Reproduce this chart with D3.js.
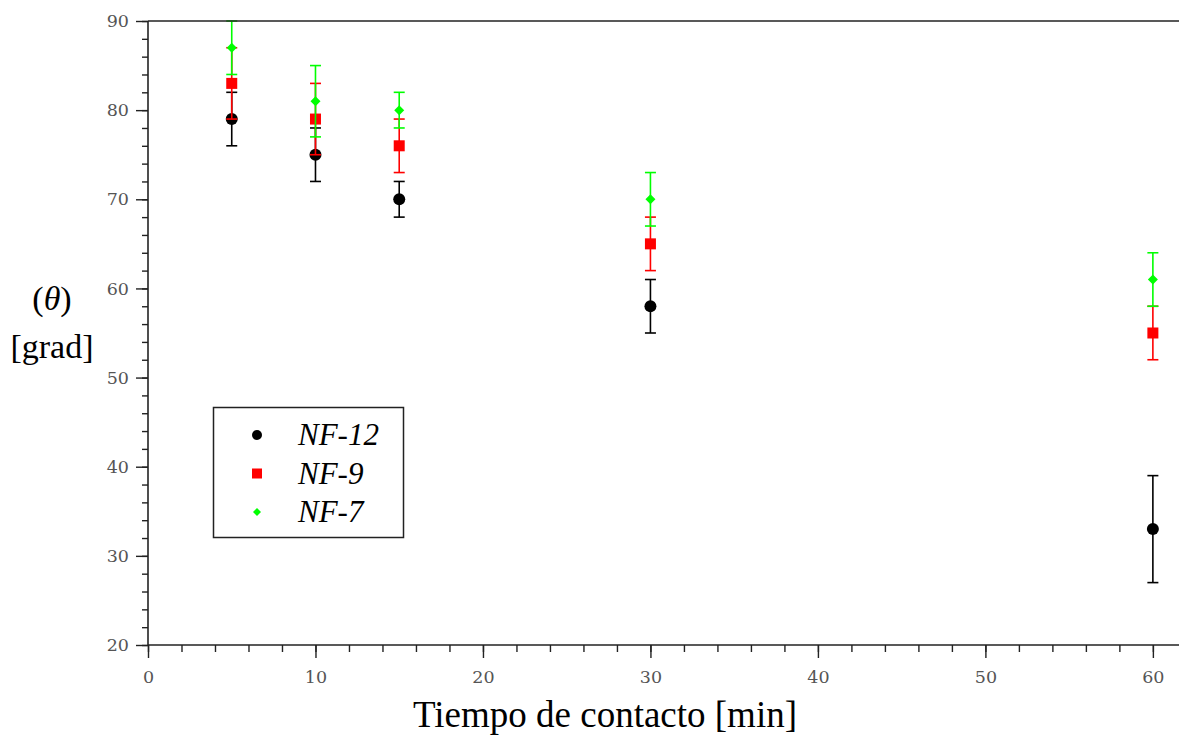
<!DOCTYPE html>
<html>
<head>
<meta charset="utf-8">
<script src="https://cdn.jsdelivr.net/npm/d3@7"></script>
<style>
    body { margin: 0; background: #fff; }
    .tick text { font-family: "DejaVu Serif", serif; font-size: 17.5px; fill: #555; }
</style>
</head>
<body>
<div id="chart"></div>
<script>

// Data ///////////////////////////////////////////////////////////////////////

const tiempo = [5, 10, 15, 30, 60];

const nf12 = [79, 75, 70, 58, 33];
const nf12Err = [3, 3, 2, 3, 6];

const nf9 = [83, 79, 76, 65, 55];
const nf9Err = [4, 4, 3, 3, 3];

const nf7 = [87, 81, 80, 70, 61];
const nf7Err = [3, 4, 2, 3, 3];

const seriesNames = ["NF-12", "NF-9", "NF-7"];

const xTicks = [0, 10, 20, 30, 40, 50, 60];
const yTicks = [20, 30, 40, 50, 60, 70, 80, 90];

const params = {
    width: 1179,
    height: 736,
    left: 148,
    right: 1178,
    top: 21,
    bottom: 645
};

const series = [
    { name: seriesNames[0], values: nf12, err: nf12Err, color: "#000000", shape: "circle" },
    { name: seriesNames[1], values: nf9, err: nf9Err, color: "#ff0000", shape: "square" },
    { name: seriesNames[2], values: nf7, err: nf7Err, color: "#00ff00", shape: "diamond" }
];


// Scales /////////////////////////////////////////////////////////////////////

const x = d3.scaleLinear()
    .domain([0, 61.5])
    .range([params.left, params.right]);

const y = d3.scaleLinear()
    .domain([20, 90])
    .range([params.bottom, params.top]);

const svg = d3.select("#chart")
    .append("svg")
        .attr("width", params.width)
        .attr("height", params.height)
        .attr("viewBox", [0, 0, params.width, params.height]);


// Markers ////////////////////////////////////////////////////////////////////

function drawMarker(g, shape, color, size) {
    if (shape === "circle") {
        g.append("circle").attr("r", size / 2).attr("fill", color);
    } else if (shape === "square") {
        g.append("rect")
            .attr("x", -size / 2).attr("y", -size / 2)
            .attr("width", size).attr("height", size)
            .attr("fill", color);
    } else {
        const h = size / 2;
        g.append("path")
            .attr("d", `M0,${-h}L${h},0L0,${h}L${-h},0Z`)
            .attr("fill", color);
    }
}

const sizes = { circle: 12, square: 11, diamond: 10 };

const dataLayer = svg.append("g");

series.forEach(s => {
    const g = dataLayer.append("g");
    const pts = tiempo.map((t, i) => ({ t, v: s.values[i], e: s.err[i] }));

    const bars = g.selectAll("g.bar")
        .data(pts)
        .join("g")
        .attr("class", "bar")
        .attr("stroke", s.color)
        .attr("stroke-width", 1.6);

    bars.append("line")
        .attr("x1", d => x(d.t)).attr("x2", d => x(d.t))
        .attr("y1", d => y(Math.min(90, d.v + d.e)))
        .attr("y2", d => y(d.v - d.e));

    bars.append("line")
        .attr("x1", d => x(d.t) - 5.5).attr("x2", d => x(d.t) + 5.5)
        .attr("y1", d => y(d.v + d.e)).attr("y2", d => y(d.v + d.e))
        .attr("display", d => d.v + d.e > 90 ? "none" : null);

    bars.append("line")
        .attr("x1", d => x(d.t) - 5.5).attr("x2", d => x(d.t) + 5.5)
        .attr("y1", d => y(d.v - d.e)).attr("y2", d => y(d.v - d.e));

    g.selectAll("g.mark")
        .data(pts)
        .join("g")
        .attr("class", "mark")
        .attr("transform", d => `translate(${x(d.t)},${y(d.v)})`)
        .each(function() { drawMarker(d3.select(this), s.shape, s.color, sizes[s.shape]); });
});


// Axes ///////////////////////////////////////////////////////////////////////

svg.append("g")
    .attr("transform", `translate(0,${params.bottom})`)
    .call(d3.axisBottom(x).tickValues(d3.range(0, 62, 2)).tickFormat("").tickSize(7).tickSizeOuter(0))
    .call(g => g.select(".domain").remove());

svg.append("g")
    .attr("transform", `translate(0,${params.bottom})`)
    .call(d3.axisBottom(x).tickValues(xTicks).tickSize(13).tickPadding(13).tickSizeOuter(0))
    .call(g => g.select(".domain").remove());

svg.append("g")
    .attr("transform", `translate(${params.left},0)`)
    .call(d3.axisLeft(y).tickValues(d3.range(20, 91, 2)).tickFormat("").tickSize(6).tickSizeOuter(0))
    .call(g => g.select(".domain").remove());

svg.append("g")
    .attr("transform", `translate(${params.left},0)`)
    .call(d3.axisLeft(y).tickValues(yTicks).tickSize(12).tickPadding(7).tickSizeOuter(0))
    .call(g => g.select(".domain").remove());

svg.selectAll(".tick line").attr("stroke", "#222").attr("stroke-width", 1.4);

// Frame lines: left, bottom, top
const frame = svg.append("g")
    .attr("stroke", "#222")
    .attr("stroke-width", 1.6)
    .attr("fill", "none");

frame.append("line")
    .attr("x1", params.left).attr("x2", params.left)
    .attr("y1", params.top).attr("y2", params.bottom);
frame.append("line")
    .attr("x1", params.left).attr("x2", params.width)
    .attr("y1", params.bottom).attr("y2", params.bottom);
frame.append("line")
    .attr("x1", params.left).attr("x2", params.width)
    .attr("y1", params.top).attr("y2", params.top);


// Axis titles ////////////////////////////////////////////////////////////////

svg.append("text")
    .attr("x", 605)
    .attr("y", 727)
    .attr("text-anchor", "middle")
    .attr("font-family", "Liberation Serif, serif")
    .attr("font-size", 37)
    .text("Tiempo de contacto [min]");

const thetaLabel = svg.append("text")
    .attr("x", 52)
    .attr("y", 310)
    .attr("text-anchor", "middle")
    .attr("font-family", "Liberation Serif, serif")
    .attr("font-size", 34);
thetaLabel.append("tspan").text("(");
thetaLabel.append("tspan").attr("font-style", "italic").text("θ");
thetaLabel.append("tspan").text(")");

svg.append("text")
    .attr("x", 52)
    .attr("y", 358)
    .attr("text-anchor", "middle")
    .attr("font-family", "Liberation Serif, serif")
    .attr("font-size", 34)
    .text("[grad]");


// Legend /////////////////////////////////////////////////////////////////////

const legend = svg.append("g");

legend.append("rect")
    .attr("x", 213.5)
    .attr("y", 407.5)
    .attr("width", 190)
    .attr("height", 130)
    .attr("fill", "#fff")
    .attr("stroke", "#222")
    .attr("stroke-width", 1.5);

const legendY = d3.scalePoint()
    .domain(seriesNames)
    .range([435, 512]);

const legendSizes = { circle: 10, square: 10, diamond: 8 };

series.forEach(s => {
    const item = legend.append("g")
        .attr("transform", `translate(257,${legendY(s.name)})`);
    drawMarker(item, s.shape, s.color, legendSizes[s.shape]);
    item.append("text")
        .attr("x", 41)
        .attr("y", 10)
        .attr("font-family", "Liberation Serif, serif")
        .attr("font-style", "italic")
        .attr("font-size", 31)
        .text(s.name);
});

</script>
</body>
</html>
